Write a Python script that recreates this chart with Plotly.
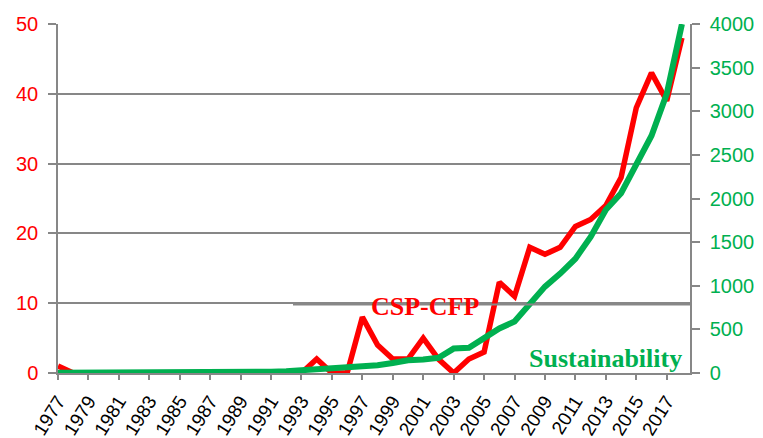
import plotly.graph_objects as go

# Publication counts per year
years = list(range(1977, 2019))
csp_cfp = [1, 0, 0, 0, 0, 0, 0, 0, 0, 0, 0, 0, 0, 0, 0, 0, 0,
           2, 0, 0, 8, 4, 2, 2, 5, 2, 0, 2, 3, 13, 11, 18, 17, 18,
           21, 22, 24, 28, 38, 43, 39, 48]
sustainability = [2, 2, 3, 3, 4, 4, 5, 5, 6, 6, 7, 8, 9, 10, 15, 20, 30,
                  50, 55, 65, 70, 90, 115, 145, 155, 175, 280, 290, 400,
                  510, 590, 800, 990, 1140, 1310, 1560, 1870, 2060, 2400,
                  2720, 3200, 4000]

left_ticks = [0, 10, 20, 30, 40, 50]
right_ticks = [0, 500, 1000, 1500, 2000, 2500, 3000, 3500, 4000]
x_ticks = list(range(1977, 2018, 2))

RED = "#FF0000"
GREEN = "#00B050"
GREY = "#878787"

fig = go.Figure()
fig.add_trace(go.Scatter(x=years, y=csp_cfp, mode="lines", name="CSP-CFP",
                         line=dict(color=RED, width=5.5), yaxis="y"))
fig.add_trace(go.Scatter(x=years, y=sustainability, mode="lines", name="Sustainability",
                         line=dict(color=GREEN, width=6), yaxis="y2"))

# plot area in pixels: x 58..690, y 24..373
L, R, T, B = 58, 690, 24, 373
W, H = R - L, B - T

def px(x):
    return (x - L) / W

def py(y):
    return (B - y) / H

fig.update_layout(
    width=763, height=438,
    margin=dict(l=L, r=763 - R, t=T, b=438 - B),
    paper_bgcolor="white", plot_bgcolor="white",
    showlegend=False,
    xaxis=dict(
        range=[1977, 2018.53], tickmode="array", tickvals=x_ticks,
        ticktext=[str(v) for v in x_ticks], tickangle=-58,
        ticks="outside", ticklen=5, tickcolor=GREY, tickwidth=1.5,
        showline=True, linecolor=GREY, linewidth=1.5, showgrid=False,
        zeroline=False, automargin=False, ticklabelstandoff=3,
        tickfont=dict(family="Liberation Sans", size=19, color="black"),
    ),
    yaxis=dict(
        range=[0, 50], tickmode="array", tickvals=left_ticks,
        ticks="outside", ticklen=8, tickcolor=GREY, tickwidth=1.5,
        showline=True, linecolor=GREY, linewidth=1.5,
        showgrid=True, gridcolor=GREY, gridwidth=1.5, zeroline=False,
        ticklabelstandoff=6, automargin=False,
        tickfont=dict(family="Liberation Sans", size=20, color=RED),
    ),
    yaxis2=dict(
        range=[0, 4000], tickmode="array", tickvals=right_ticks,
        overlaying="y", side="right",
        ticks="outside", ticklen=8, tickcolor=GREY, tickwidth=1.5,
        showline=True, linecolor=GREY, linewidth=1.5,
        showgrid=False, zeroline=False,
        ticklabelstandoff=6, automargin=False,
        tickfont=dict(family="Liberation Sans", size=20, color=GREEN),
    ),
    shapes=[
        dict(type="line", xref="paper", yref="paper",
             x0=px(293), x1=1, y0=py(304.5), y1=py(304.5),
             line=dict(color=GREY, width=2)),
    ],
    annotations=[
        dict(text="<b>CSP-CFP</b>", xref="paper", yref="paper",
             x=px(425), y=py(306), xanchor="center", yanchor="middle",
             showarrow=False,
             font=dict(family="Liberation Serif", size=26, color=RED)),
        dict(text="<b>Sustainability</b>", xref="paper", yref="paper",
             x=px(605), y=py(358), xanchor="center", yanchor="middle",
             showarrow=False,
             font=dict(family="Liberation Serif", size=26, color=GREEN)),
    ],
)

fig.write_html("out.html")
